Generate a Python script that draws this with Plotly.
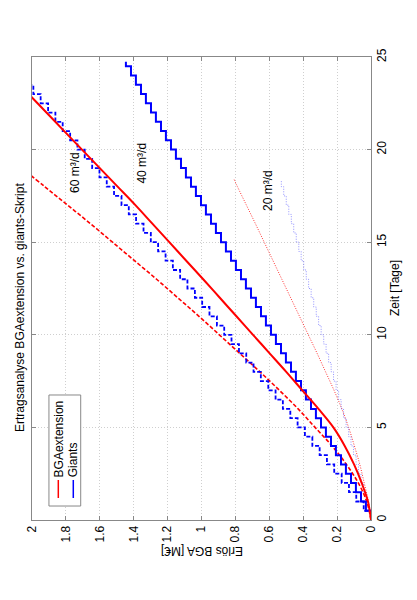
import plotly.graph_objects as go

# Erlös [M€] read per day (BGAextension) and per half day (Giants stairs)
bga_days_60 = [0, 1, 2, 3, 4, 5, 6, 7, 8, 9, 10, 11, 12, 13, 14, 15, 16, 17, 18, 19]
bga_erloes_60 = [0, 0.025, 0.075, 0.145, 0.23, 0.33, 0.43, 0.54, 0.655, 0.775, 0.895,
                 1.015, 1.14, 1.265, 1.395, 1.525, 1.655, 1.79, 1.925, 2.06]

bga_days_40 = [0, 1, 2, 3, 4, 5, 6, 7, 8, 9, 10, 11, 12, 13, 14, 15, 16, 17, 18, 19,
               20, 21, 22, 23]
bga_erloes_40 = [0, 0.018, 0.055, 0.10, 0.155, 0.222, 0.31, 0.405, 0.50, 0.598, 0.696,
                 0.794, 0.892, 0.99, 1.09, 1.19, 1.29, 1.39, 1.495, 1.60, 1.705, 1.81,
                 1.915, 2.02]

bga_days_20 = [0, 1, 2, 3, 4, 5, 6, 7, 8, 9, 10, 11, 12, 13, 14, 15, 16, 17, 18, 18.4]
bga_erloes_20 = [0, 0.015, 0.04, 0.066, 0.098, 0.132, 0.172, 0.218, 0.268, 0.318, 0.37,
                 0.422, 0.474, 0.526, 0.578, 0.63, 0.682, 0.735, 0.788, 0.808]

giants_days_60 = [0, 0.5, 1, 1.5, 2, 2.5, 3, 3.5, 4, 4.5, 5, 5.5, 6, 6.5, 7, 7.5, 8, 8.5,
                  9, 9.5, 10, 10.5, 11, 11.5, 12, 12.5, 13, 13.5, 14, 14.5, 15, 15.5, 16,
                  16.5, 17, 17.5, 18, 18.5, 19, 19.5, 20, 20.5, 21, 21.5, 22, 22.5, 23, 23.5]
giants_erloes_60 = [0, 0.043, 0.087, 0.130, 0.173, 0.217, 0.260, 0.303, 0.346, 0.390,
                    0.433, 0.476, 0.520, 0.563, 0.606, 0.650, 0.693, 0.736, 0.779, 0.823,
                    0.866, 0.909, 0.953, 0.996, 1.039, 1.083, 1.126, 1.169, 1.212, 1.256,
                    1.299, 1.342, 1.386, 1.429, 1.472, 1.516, 1.559, 1.602, 1.645, 1.689,
                    1.732, 1.775, 1.819, 1.862, 1.905, 1.949, 1.992, 2.035]

giants_days_40 = [0, 0.5, 1, 1.5, 2, 2.5, 3, 3.5, 4, 4.5, 5, 5.5, 6, 6.5, 7, 7.5, 8, 8.5,
                  9, 9.5, 10, 10.5, 11, 11.5, 12, 12.5, 13, 13.5, 14, 14.5, 15, 15.5, 16,
                  16.5, 17, 17.5, 18, 18.5, 19, 19.5, 20, 20.5, 21, 21.5, 22, 22.5, 23,
                  23.5, 24, 24.5, 24.75]
giants_erloes_40 = [0, 0.030, 0.059, 0.089, 0.118, 0.148, 0.177, 0.207, 0.236, 0.266,
                    0.295, 0.325, 0.354, 0.384, 0.413, 0.443, 0.472, 0.502, 0.531, 0.561,
                    0.590, 0.620, 0.649, 0.679, 0.708, 0.738, 0.767, 0.797, 0.826, 0.856,
                    0.885, 0.915, 0.944, 0.974, 1.003, 1.033, 1.062, 1.092, 1.121, 1.151,
                    1.180, 1.210, 1.239, 1.269, 1.298, 1.328, 1.357, 1.387, 1.416, 1.446,
                    1.446]

giants_days_20 = [0, 0.5, 1, 1.5, 2, 2.5, 3, 3.5, 4, 4.5, 5, 5.5, 6, 6.5, 7, 7.5, 8, 8.5,
                  9, 9.5, 10, 10.5, 11, 11.5, 12, 12.5, 13, 13.5, 14, 14.5, 15, 15.5, 16,
                  16.5, 17, 17.5, 18, 18.3]
giants_erloes_20 = [0, 0.015, 0.029, 0.044, 0.059, 0.074, 0.088, 0.103, 0.118, 0.132,
                    0.147, 0.162, 0.176, 0.191, 0.206, 0.221, 0.235, 0.250, 0.265, 0.279,
                    0.294, 0.309, 0.323, 0.338, 0.353, 0.368, 0.382, 0.397, 0.412, 0.426,
                    0.441, 0.456, 0.470, 0.485, 0.500, 0.515, 0.529, 0.529]

erloes_ticks = [0, 0.2, 0.4, 0.6, 0.8, 1, 1.2, 1.4, 1.6, 1.8, 2]
erloes_ticktext = ['0', '0.2', '0.4', '0.6', '0.8', '1', '1.2', '1.4', '1.6', '1.8', '2']
zeit_ticks = [0, 5, 10, 15, 20, 25]

FONT = 'Liberation Sans, Arial, sans-serif'

fig = go.Figure()
# figure is drawn turned by 90 degrees: Erlös runs right-to-left, Zeit bottom-to-top
fig.add_trace(go.Scatter(x=bga_erloes_20, y=bga_days_20, mode='lines', line_shape='spline',
                         line={'width': 1, 'color': 'rgba(255,0,0,0.8)', 'dash': '1px,1.5px'}))
fig.add_trace(go.Scatter(x=giants_erloes_20, y=giants_days_20, mode='lines', line_shape='vh',
                         line={'width': 1, 'color': 'rgba(90,90,255,0.65)', 'dash': '1px,1.5px'}))
fig.add_trace(go.Scatter(x=bga_erloes_60, y=bga_days_60, mode='lines', line_shape='spline',
                         line={'width': 1.6, 'color': 'red', 'dash': '4px,2px'}))
fig.add_trace(go.Scatter(x=giants_erloes_60, y=giants_days_60, mode='lines', line_shape='vh',
                         line={'width': 1.8, 'color': 'blue', 'dash': '4px,2px'}))
fig.add_trace(go.Scatter(x=giants_erloes_40, y=giants_days_40, mode='lines', line_shape='vh',
                         line={'width': 2, 'color': 'blue'}))
fig.add_trace(go.Scatter(x=bga_erloes_40, y=bga_days_40, mode='lines', line_shape='spline',
                         line={'width': 2, 'color': 'red'}))

# page adds an 8px body margin, so the plot box is shifted back by that much
fig.update_layout(
    width=417, height=600, showlegend=False,
    margin={'l': 24, 'r': 54, 't': 49, 'b': 88},
    plot_bgcolor='white', paper_bgcolor='white',
    font={'family': FONT, 'size': 12, 'color': 'black'},
)
fig.update_xaxes(range=[2, 0], tickvals=erloes_ticks, ticktext=erloes_ticktext,
                 tickangle=-90, ticks='inside', ticklen=4, tickcolor='#888',
                 showline=True, linecolor='#888', linewidth=1, mirror='ticks',
                 showgrid=True, gridcolor='#cfcfcf', griddash='1px,2px', zeroline=False)
fig.update_yaxes(range=[0, 25], tickvals=zeit_ticks, side='right', tickangle=-90,
                 ticks='inside', ticklen=4, tickcolor='#888',
                 showline=True, linecolor='#888', linewidth=1, mirror='ticks',
                 showgrid=True, gridcolor='#cfcfcf', griddash='1px,2px', zeroline=False)

notes = [
    dict(text='Ertragsanalyse BGAextension vs. giants-Skript', x=20, y=308),
    dict(text='Zeit [Tage]', x=395, y=288),
]
for n in notes:
    fig.add_annotation(text=n['text'], xref='paper', yref='paper',
                       x=(n['x'] - 32) / 339, y=(520 - n['y']) / 463,
                       textangle=-90, showarrow=False, xanchor='center', yanchor='middle')
fig.add_annotation(text='Erlös BGA [M€]', xref='paper', yref='paper',
                   x=(202 - 32) / 339, y=(520 - 551) / 463, textangle=180,
                   showarrow=False, xanchor='center', yanchor='middle')

# flow labels
for txt, e, t in [('60 m³/d', 1.746, 18.74), ('40 m³/d', 1.353, 19.28), ('20 m³/d', 0.608, 17.82)]:
    fig.add_annotation(text=txt, x=e, y=t, textangle=-90, showarrow=False,
                       xanchor='center', yanchor='middle')

# hand-made legend, turned like the rest
fig.add_shape(type='rect', xref='paper', yref='paper', x0=0.050, x1=0.1437, y0=0.0302, y1=0.270,
              line={'color': '#888', 'width': 1}, fillcolor='white', layer='above')
fig.add_shape(type='line', xref='paper', yref='paper', x0=0.0776, x1=0.0776, y0=0.0475, y1=0.0864,
              line={'color': 'red', 'width': 1.5}, layer='above')
fig.add_shape(type='line', xref='paper', yref='paper', x0=0.1218, x1=0.1218, y0=0.0475, y1=0.0864,
              line={'color': 'blue', 'width': 1.5}, layer='above')
fig.add_annotation(text='BGAextension', xref='paper', yref='paper', x=0.0795, y=0.176,
                   textangle=-90, showarrow=False, xanchor='center', yanchor='middle')
fig.add_annotation(text='Giants', xref='paper', yref='paper', x=0.1218, y=0.1296,
                   textangle=-90, showarrow=False, xanchor='center', yanchor='middle')

fig.write_html('out.html')
